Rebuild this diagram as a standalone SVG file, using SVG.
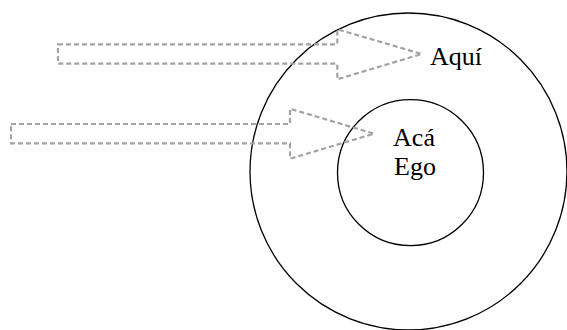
<svg xmlns="http://www.w3.org/2000/svg" width="567" height="330" viewBox="0 0 567 330">
  <style>
    .ring { fill: none; stroke: #000; stroke-width: 1.3; }
    .arrow { fill: none; stroke: #a3a3a3; stroke-width: 2.2; stroke-dasharray: 5 3; stroke-linejoin: miter; }
    .label { font-family: "Liberation Serif", "DejaVu Serif", serif; font-size: 26px; fill: #000; text-anchor: middle; }
  </style>
  <rect width="567" height="330" fill="#fff"/>

  <g id="outer">
    <circle class="ring" cx="408.5" cy="171.5" r="158.5"/>
    <text class="label" x="456" y="65">Aquí</text>
  </g>

  <g id="inner">
    <circle class="ring" cx="410.5" cy="172.7" r="73"/>
    <text class="label" x="414" y="146">Acá</text>
    <text class="label" x="415" y="175">Ego</text>
  </g>

  <g id="connectors">
    <path class="arrow" d="M58,44.3 H337.3 V29.3 L421.7,54 L337.3,79.3 V63.7 H58 Z"/>
    <path class="arrow" d="M11,124 H290 V108.7 L374,133.7 L290,158.7 V143.3 H11 Z"/>
  </g>
</svg>
